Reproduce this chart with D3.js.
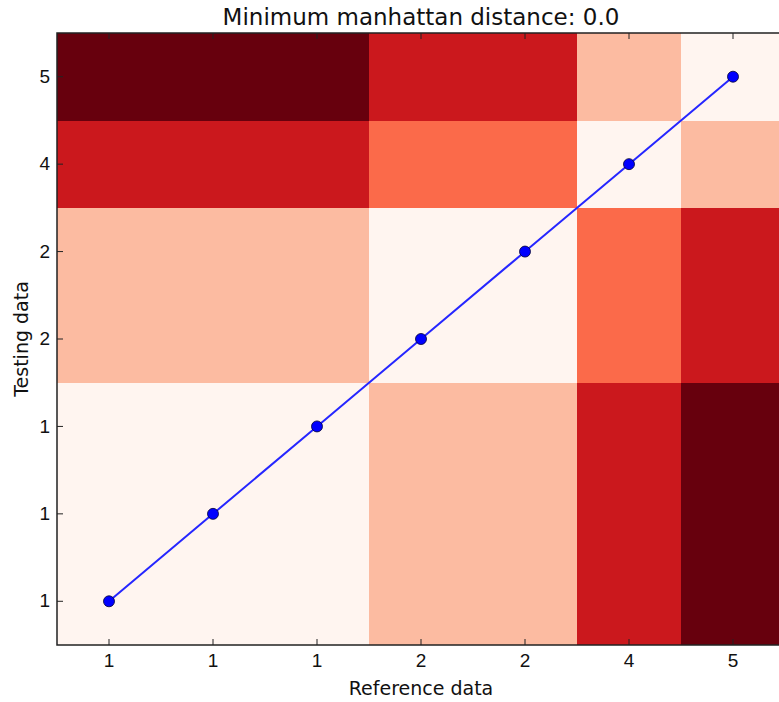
<!DOCTYPE html>
<html>
<head>
<meta charset="utf-8">
<script src="https://cdn.jsdelivr.net/npm/d3@7"></script>
<style>
  body { margin: 0; background: #fff; overflow: hidden; }
  svg { display: block; font-family: "DejaVu Sans", sans-serif; }
</style>
</head>
<body>
<svg width="779" height="702"></svg>
<script>
// Data
const referenceData = [1, 1, 1, 2, 2, 4, 5];
const testingData = [1, 1, 1, 2, 2, 4, 5];
// warping path: (reference index, testing index)
const pathPoints = [[0, 0], [1, 1], [2, 2], [3, 3], [4, 4], [5, 5], [6, 6]];
const titleText = "Minimum manhattan distance: 0.0";

const svg = d3.select("svg");
const margin = { left: 57, top: 33, right: -6, bottom: 57 };
const width = 779 - margin.left - margin.right;
const height = 702 - margin.top - margin.bottom;

const g = svg.append("g").attr("transform", `translate(${margin.left},${margin.top})`);

const idx = d3.range(referenceData.length);
const x = d3.scaleBand().domain(idx).range([0, width]);
const y = d3.scaleBand().domain(d3.range(testingData.length)).range([height, 0]);

// distance -> Reds colormap
const maxDist = d3.max(referenceData, (r) => d3.max(testingData, (t) => Math.abs(r - t)));
const color = (v) => d3.schemeReds[9][Math.round((v / maxDist) * 8)];

const cells = [];
referenceData.forEach((r, i) => {
  testingData.forEach((t, j) => cells.push({ i, j, v: Math.abs(r - t) }));
});

g.append("g")
  .attr("shape-rendering", "crispEdges")
  .selectAll("rect")
  .data(cells)
  .enter()
  .append("rect")
  .attr("x", (d) => Math.floor(x(d.i)))
  .attr("y", (d) => Math.floor(y(d.j)))
  .attr("width", x.bandwidth() + 1)
  .attr("height", y.bandwidth() + 1)
  .attr("fill", (d) => color(d.v));

// warping path
const cx = (d) => x(d[0]) + x.bandwidth() / 2;
const cy = (d) => y(d[1]) + y.bandwidth() / 2;

g.append("path")
  .datum(pathPoints)
  .attr("fill", "none")
  .attr("stroke", "#2626ff")
  .attr("stroke-width", 2)
  .attr("d", d3.line().x(cx).y(cy));

g.append("g")
  .selectAll("circle")
  .data(pathPoints)
  .enter()
  .append("circle")
  .attr("cx", cx)
  .attr("cy", cy)
  .attr("r", 5.5)
  .attr("fill", "#0000ff")
  .attr("stroke", "#000033")
  .attr("stroke-width", 0.8);

// axes with inward ticks on all four sides
const tickLen = 6;
const xAxis = d3.axisBottom(x).tickSize(0).tickPadding(9).tickFormat((i) => referenceData[i]);
const yAxis = d3.axisLeft(y).tickSize(0).tickPadding(7).tickFormat((j) => testingData[j]);

g.append("g")
  .attr("transform", `translate(0,${height})`)
  .call(xAxis)
  .call((s) => s.select(".domain").remove())
  .selectAll("text")
  .attr("font-size", 19)
  .attr("fill", "#111");

g.append("g")
  .call(yAxis)
  .call((s) => s.select(".domain").remove())
  .selectAll("text")
  .attr("font-size", 19)
  .attr("fill", "#111");

const ticks = g.append("g").attr("stroke", "#222").attr("stroke-width", 1);
idx.forEach((i) => {
  const px = x(i) + x.bandwidth() / 2;
  ticks.append("line").attr("x1", px).attr("x2", px).attr("y1", height).attr("y2", height - tickLen);
  ticks.append("line").attr("x1", px).attr("x2", px).attr("y1", 0).attr("y2", tickLen);
});
d3.range(testingData.length).forEach((j) => {
  const py = y(j) + y.bandwidth() / 2;
  ticks.append("line").attr("x1", 0).attr("x2", tickLen).attr("y1", py).attr("y2", py);
  ticks.append("line").attr("x1", width).attr("x2", width - tickLen).attr("y1", py).attr("y2", py);
});

// frame
g.append("rect")
  .attr("width", width)
  .attr("height", height)
  .attr("fill", "none")
  .attr("stroke", "#222")
  .attr("stroke-width", 1.5);

// title and labels
svg.append("text")
  .attr("x", margin.left + width / 2)
  .attr("y", 25)
  .attr("text-anchor", "middle")
  .attr("font-size", 23)
  .attr("fill", "#111")
  .text(titleText);

svg.append("text")
  .attr("x", margin.left + width / 2)
  .attr("y", 695)
  .attr("text-anchor", "middle")
  .attr("font-size", 19)
  .attr("fill", "#111")
  .text("Reference data");

svg.append("text")
  .attr("transform", `translate(28,${margin.top + height / 2}) rotate(-90)`)
  .attr("text-anchor", "middle")
  .attr("font-size", 19)
  .attr("fill", "#111")
  .text("Testing data");
</script>
</body>
</html>
